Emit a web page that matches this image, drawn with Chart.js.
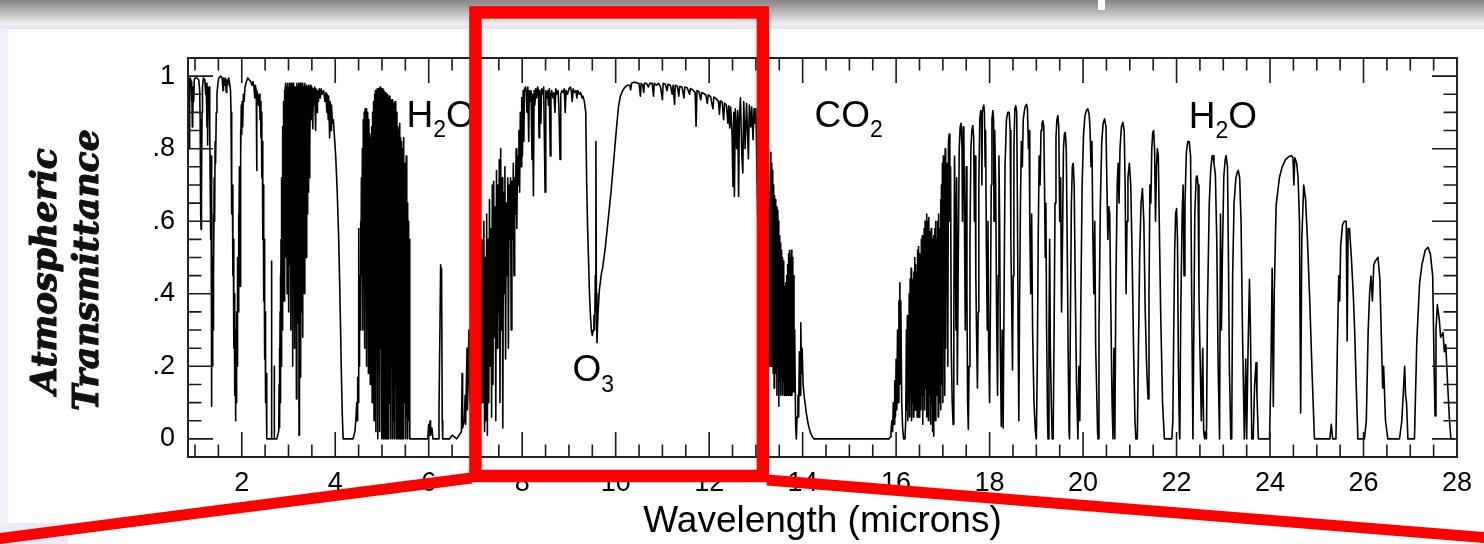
<!DOCTYPE html>
<html><head><meta charset="utf-8">
<script src="https://cdn.jsdelivr.net/npm/chart.js@4.4.1/dist/chart.umd.min.js"></script>
<style>html,body{margin:0;padding:0;background:#fff;overflow:hidden}canvas{display:block}</style>
</head><body>
<canvas id="c" width="1484" height="544" style="width:1484px;height:544px"></canvas>
<script>
// ---- tick labels ----
const xTickValues = [2,4,6,8,10,12,14,16,18,20,22,24,26,28];
const xTickLabels = ['2','4','6','8','10','12','14','16','18','20','22','24','26','28'];
const yTickValues = [0,0.2,0.4,0.6,0.8,1];
const yTickLabels = ['0','.2','.4','.6','.8','1'];
const xTitle = 'Wavelength (microns)';
const yTitle = ['Atmospheric','Transmittance'];
const bandLabels = [
  {main:'H', sub:'2', tail:'O', x:5.526, y:0.861},
  {main:'CO', sub:'2', tail:'', x:14.256, y:0.861},
  {main:'H', sub:'2', tail:'O', x:22.261, y:0.858},
  {main:'O', sub:'3', tail:'', x:9.078, y:0.159}
];

// ---- transmittance spectrum, [wavelength, transmittance] pairs ----
const nearIR = [0.85,0.99, 0.865,0.995, 0.875,0.97, 0.882,0.80, 0.888,0.97, 0.90,0.995, 0.915,0.985, 0.925,0.93, 0.935,0.97, 0.942,0.86, 0.948,0.95, 0.955,0.89, 0.962,0.97, 0.972,0.93, 0.985,0.99, 1.00,0.995, 1.04,0.995, 1.08,0.99, 1.10,0.96, 1.11,0.88, 1.118,0.72, 1.125,0.62, 1.13,0.577, 1.135,0.78, 1.142,0.68, 1.15,0.90, 1.16,0.97, 1.18,0.995, 1.21,0.99, 1.23,0.95, 1.24,0.98, 1.255,0.86, 1.265,0.97, 1.27,0.81, 1.28,0.96, 1.295,0.92, 1.305,0.97, 1.315,0.86, 1.325,0.70, 1.335,0.55, 1.343,0.78, 1.35,0.30, 1.356,0.09, 1.362,0.40, 1.37,0.20, 1.378,0.50, 1.385,0.30, 1.392,0.62, 1.40,0.45, 1.41,0.72, 1.42,0.60, 1.43,0.82, 1.44,0.76, 1.455,0.90, 1.47,0.95, 1.49,0.98, 1.51,0.995, 1.55,1.0, 1.58,0.995, 1.60,0.96, 1.61,0.995, 1.63,0.975, 1.65,0.995, 1.67,0.955, 1.68,0.99, 1.70,0.975, 1.72,0.995, 1.74,0.98, 1.76,0.96, 1.77,0.90, 1.78,0.80, 1.79,0.62, 1.80,0.70, 1.81,0.45, 1.82,0.55, 1.83,0.25, 1.84,0.40, 1.85,0.12, 1.858,0.30, 1.866,0.05, 1.874,0.25, 1.88,0.10, 1.89,0.35, 1.90,0.20, 1.91,0.50, 1.92,0.35, 1.93,0.62, 1.94,0.50, 1.95,0.75, 1.96,0.68, 1.967,0.42, 1.974,0.85, 1.98,0.78, 1.99,0.92, 2.00,0.84, 2.01,0.93, 2.02,0.86, 2.035,0.95, 2.05,0.93, 2.07,0.97, 2.10,0.985, 2.13,0.995, 2.16,0.99, 2.19,0.985, 2.22,0.975, 2.24,0.985, 2.26,0.97, 2.28,0.94, 2.29,0.975, 2.31,0.96, 2.318,0.74, 2.326,0.96, 2.34,0.95, 2.36,0.92, 2.38,0.95, 2.39,0.88, 2.40,0.93, 2.41,0.83, 2.42,0.90, 2.43,0.72, 2.44,0.82, 2.45,0.55, 2.46,0.70, 2.47,0.38, 2.48,0.55, 2.49,0.22, 2.50,0.35, 2.51,0.10, 2.52,0.18, 2.53,0.03, 2.54,0.0];

const band3um = [2.56,0.0, 2.60,0.0, 2.632,0.0, 2.637,0.49, 2.642,0.0, 2.69,0.0, 2.695,0.20, 2.70,0.0, 2.75,0.0, 2.79,0.02, 2.80,0.15, 2.805,0.03, 2.81,0.25, 2.815,0.06, 2.82,0.35, 2.825,0.10, 2.83,0.45, 2.835,0.15, 2.84,0.55, 2.845,0.20, 2.85,0.62, 2.855,0.25, 2.86,0.72, 2.865,0.30, 2.87,0.80, 2.875,0.35, 2.88,0.86, 2.885,0.40, 2.89,0.90, 2.895,0.45, 2.90,0.93, 2.905,0.38, 2.91,0.95, 2.915,0.50, 2.92,0.96, 2.925,0.45, 2.93,0.97, 2.935,0.55,
 2.94,0.98, 2.95,0.50, 2.96,0.97, 2.97,0.40, 2.98,0.98, 2.99,0.55, 3.00,0.97, 3.01,0.35, 3.02,0.98, 3.03,0.48, 3.04,0.96, 3.05,0.30, 3.06,0.98, 3.07,0.45, 3.08,0.97, 3.09,0.20, 3.10,0.98, 3.11,0.42, 3.12,0.97, 3.13,0.25, 3.14,0.96, 3.15,0.38, 3.16,0.97, 3.17,0.11, 3.18,0.98, 3.19,0.32, 3.20,0.97, 3.21,0.40, 3.22,0.98, 3.225,0.01, 3.23,0.97, 3.24,0.30, 3.25,0.98, 3.26,0.17, 3.27,0.97, 3.28,0.35, 3.29,0.98, 3.30,0.28, 3.31,0.96, 3.32,0.45, 3.33,0.97, 3.34,0.40, 3.35,0.98, 3.36,0.55, 3.37,0.97, 3.38,0.50, 3.39,0.975, 3.40,0.62, 3.41,0.97, 3.42,0.68, 3.43,0.975, 3.44,0.72, 3.45,0.97, 3.46,0.80, 3.47,0.975, 3.48,0.88,
 3.50,0.97, 3.52,0.855, 3.53,0.965, 3.55,0.92, 3.56,0.97, 3.58,0.85, 3.59,0.965, 3.61,0.90, 3.62,0.96, 3.64,0.93, 3.66,0.965, 3.68,0.94, 3.70,0.965, 3.72,0.95, 3.75,0.96, 3.78,0.93, 3.80,0.955, 3.82,0.90, 3.83,0.95, 3.85,0.88, 3.86,0.945, 3.88,0.83, 3.89,0.93, 3.91,0.85, 3.92,0.92, 3.94,0.87, 3.96,0.88, 3.98,0.84, 4.01,0.78, 4.04,0.69, 4.07,0.57, 4.09,0.46, 4.11,0.33, 4.13,0.19, 4.15,0.07, 4.17,0.0, 4.38,0.0];

const band6um = [4.40,0.01, 4.42,0.02, 4.44,0.05, 4.46,0.10, 4.47,0.05, 4.48,0.17, 4.49,0.10, 4.50,0.30, 4.505,0.58, 4.51,0.20, 4.52,0.45, 4.53,0.30,
 4.54,0.60, 4.55,0.35, 4.56,0.72, 4.57,0.45, 4.58,0.80, 4.59,0.30, 4.60,0.88, 4.61,0.50, 4.62,0.90, 4.63,0.25, 4.64,0.91, 4.65,0.45, 4.66,0.91, 4.67,0.20, 4.68,0.90, 4.69,0.40, 4.70,0.89, 4.71,0.18, 4.72,0.88, 4.73,0.35, 4.74,0.84, 4.75,0.15, 4.76,0.83, 4.77,0.30, 4.78,0.86, 4.79,0.10, 4.80,0.90, 4.81,0.32, 4.82,0.93, 4.83,0.05, 4.84,0.95, 4.85,0.28, 4.86,0.96, 4.87,0.02, 4.88,0.96, 4.89,0.22, 4.90,0.965, 4.91,0.0, 4.92,0.96, 4.93,0.18, 4.94,0.965, 4.95,0.02, 4.96,0.97, 4.97,0.25, 4.98,0.965, 4.99,0.0, 5.00,0.96, 5.01,0.15, 5.02,0.965, 5.03,0.0, 5.04,0.96, 5.05,0.22, 5.06,0.955, 5.07,0.0, 5.08,0.955, 5.09,0.12, 5.10,0.95, 5.11,0.0, 5.12,0.95, 5.13,0.28, 5.14,0.94, 5.15,0.0, 5.16,0.945, 5.17,0.10, 5.18,0.935, 5.19,0.0, 5.20,0.93, 5.21,0.20, 5.22,0.935, 5.23,0.0, 5.24,0.925, 5.25,0.05, 5.26,0.92, 5.27,0.0, 5.28,0.93, 5.29,0.15, 5.30,0.91, 5.31,0.0, 5.32,0.90, 5.33,0.08, 5.34,0.86, 5.35,0.0, 5.36,0.85, 5.37,0.12, 5.38,0.87, 5.39,0.0, 5.40,0.83, 5.41,0.20, 5.42,0.82, 5.43,0.0, 5.44,0.80, 5.45,0.05, 5.46,0.83, 5.47,0.0, 5.48,0.76, 5.49,0.10, 5.50,0.70, 5.51,0.0, 5.52,0.78, 5.53,0.06, 5.54,0.65, 5.55,0.0, 5.56,0.60, 5.57,0.05, 5.58,0.55, 5.595,0.0,
 5.98,0.0, 6.00,0.04, 6.01,0.01, 6.03,0.05, 6.04,0.01, 6.07,0.03, 6.09,0.0, 6.20,0.0, 6.22,0.08, 6.24,0.30, 6.255,0.48, 6.265,0.44, 6.275,0.47, 6.29,0.05, 6.30,0.0, 6.45,0.0, 6.50,0.01, 6.60,0.0, 6.65,0.01, 6.70,0.02, 6.715,0.18, 6.725,0.03, 6.76,0.05, 6.78,0.12, 6.79,0.04, 6.82,0.25, 6.83,0.08, 6.86,0.30, 6.88,0.10, 6.90,0.35, 6.92,0.05, 6.95,0.40, 6.97,0.10, 7.00,0.45, 7.02,0.05, 7.05,0.50, 7.07,0.15, 7.10,0.55, 7.12,0.10];

const window8to13 = [7.14,0.55, 7.16,0.10, 7.18,0.60, 7.195,0.02, 7.21,0.50, 7.225,0.05, 7.24,0.62, 7.255,0.01, 7.27,0.55, 7.285,0.10, 7.30,0.66, 7.315,0.20, 7.33,0.58, 7.345,0.06, 7.36,0.70, 7.375,0.15, 7.39,0.71, 7.405,0.28, 7.42,0.64, 7.435,0.05, 7.45,0.74, 7.465,0.25, 7.48,0.70, 7.495,0.35, 7.51,0.77, 7.525,0.10, 7.54,0.80, 7.555,0.30, 7.57,0.72, 7.585,0.03, 7.60,0.68, 7.615,0.40, 7.63,0.75, 7.645,0.22, 7.66,0.65, 7.675,0.45, 7.69,0.72, 7.705,0.25, 7.72,0.70, 7.735,0.55, 7.75,0.72, 7.765,0.30, 7.78,0.71, 7.795,0.55, 7.81,0.76, 7.825,0.45, 7.84,0.72, 7.855,0.62, 7.87,0.80, 7.885,0.58, 7.90,0.78, 7.915,0.70, 7.93,0.85, 7.945,0.68, 7.96,0.90, 7.975,0.75, 7.99,0.94, 8.005,0.78, 8.02,0.96, 8.035,0.82, 8.05,0.965,
 8.07,0.97, 8.09,0.955, 8.10,0.90, 8.12,0.97, 8.14,0.82, 8.15,0.96, 8.17,0.93, 8.19,0.96, 8.21,0.77, 8.22,0.95, 8.24,0.67, 8.255,0.96, 8.27,0.92, 8.29,0.965, 8.31,0.94, 8.33,0.97, 8.35,0.96, 8.36,0.83, 8.375,0.96, 8.40,0.87, 8.415,0.965, 8.44,0.95, 8.46,0.97, 8.49,0.68, 8.505,0.96, 8.53,0.94, 8.55,0.96, 8.56,0.92, 8.58,0.965, 8.60,0.78, 8.615,0.95, 8.63,0.96, 8.66,0.94, 8.68,0.955, 8.70,0.90, 8.72,0.965, 8.75,0.95, 8.77,0.96, 8.79,0.89, 8.81,0.77, 8.825,0.95, 8.85,0.96, 8.88,0.955, 8.90,0.965, 8.92,0.90, 8.94,0.96, 8.97,0.95, 9.00,0.965, 9.03,0.97, 9.05,0.96, 9.07,0.93, 9.09,0.965, 9.12,0.955, 9.15,0.96, 9.17,0.94, 9.19,0.96, 9.22,0.95, 9.25,0.955, 9.28,0.94, 9.30,0.945, 9.33,0.93,
 9.36,0.90, 9.38,0.70, 9.40,0.58, 9.42,0.49, 9.44,0.40, 9.46,0.34, 9.48,0.30, 9.50,0.285, 9.52,0.30, 9.535,0.34, 9.55,0.30, 9.565,0.45, 9.577,0.82, 9.587,0.40, 9.60,0.265, 9.62,0.34, 9.65,0.41, 9.68,0.44, 9.70,0.46, 9.72,0.47, 9.75,0.50, 9.78,0.53, 9.82,0.58, 9.86,0.63, 9.90,0.68, 9.94,0.74, 9.98,0.80, 10.02,0.86, 10.06,0.915, 10.10,0.945, 10.15,0.96, 10.20,0.97, 10.25,0.975, 10.30,0.975, 10.32,0.962, 10.34,0.98, 10.38,0.983,
 10.45,0.982, 10.50,0.98, 10.53,0.945, 10.545,0.98, 10.58,0.975, 10.60,0.955, 10.615,0.98, 10.66,0.98, 10.70,0.97, 10.73,0.98, 10.78,0.98, 10.81,0.945, 10.825,0.98, 10.87,0.975, 10.92,0.98, 10.96,0.97, 11.00,0.935, 11.015,0.98, 11.06,0.978, 11.10,0.96, 11.12,0.978, 11.17,0.975, 11.21,0.95, 11.23,0.975, 11.26,0.922, 11.275,0.975, 11.32,0.972, 11.35,0.945, 11.37,0.972, 11.42,0.97, 11.46,0.94, 11.48,0.97, 11.53,0.968, 11.58,0.95, 11.60,0.966, 11.65,0.962, 11.70,0.955, 11.72,0.862, 11.74,0.96, 11.78,0.958, 11.82,0.935, 11.84,0.955, 11.88,0.952, 11.93,0.948, 11.96,0.925, 11.98,0.948, 12.03,0.944, 12.08,0.91, 12.10,0.942, 12.15,0.938, 12.20,0.93, 12.22,0.895, 12.24,0.932, 12.28,0.928, 12.31,0.88, 12.33,0.926, 12.37,0.92, 12.40,0.87, 12.42,0.918, 12.44,0.857, 12.46,0.915, 12.49,0.84, 12.51,0.696, 12.525,0.90, 12.54,0.668, 12.56,0.91, 12.59,0.80, 12.61,0.905, 12.63,0.668, 12.645,0.88, 12.67,0.94, 12.70,0.78, 12.72,0.733, 12.74,0.93, 12.77,0.80, 12.80,0.925, 12.84,0.772, 12.86,0.92, 12.89,0.86, 12.91,0.915, 12.94,0.825, 12.96,0.91, 12.98,0.87, 13.0,0.91,
 13.04,0.60, 13.06,0.90, 13.08,0.50, 13.10,0.88, 13.12,0.40, 13.15,0.85, 13.18,0.30, 13.21,0.82, 13.24,0.25, 13.27,0.80, 13.30,0.20];

const co2Band = [13.32,0.79, 13.33,0.20, 13.34,0.76, 13.35,0.25, 13.36,0.74, 13.37,0.18, 13.38,0.70, 13.39,0.14, 13.40,0.67, 13.41,0.22, 13.42,0.66, 13.43,0.18, 13.44,0.64, 13.45,0.12, 13.46,0.63, 13.47,0.20, 13.48,0.60, 13.49,0.09, 13.50,0.56, 13.51,0.16, 13.52,0.54, 13.53,0.12, 13.54,0.52, 13.55,0.17, 13.56,0.50, 13.57,0.12, 13.58,0.49, 13.59,0.16, 13.60,0.46, 13.61,0.12, 13.62,0.42, 13.63,0.16, 13.64,0.43, 13.65,0.12, 13.66,0.45, 13.67,0.15, 13.68,0.48, 13.69,0.12, 13.70,0.51, 13.71,0.15, 13.72,0.52, 13.73,0.12, 13.74,0.50, 13.75,0.14, 13.76,0.52, 13.77,0.12, 13.78,0.50, 13.79,0.13, 13.80,0.45, 13.815,0.13, 13.83,0.30, 13.85,0.04, 13.865,0.0, 13.88,0.06, 13.90,0.12, 13.915,0.06, 13.93,0.24, 13.945,0.12, 13.96,0.32, 13.975,0.18, 13.99,0.25, 14.01,0.15, 14.04,0.11, 14.08,0.07, 14.12,0.04, 14.16,0.02, 14.20,0.008, 14.24,0.0, 15.85,0.0, 15.87,0.005, 15.89,0.02, 15.91,0.05, 15.925,0.02, 15.94,0.10, 15.955,0.04, 15.97,0.16, 15.985,0.06, 16.00,0.22, 16.015,0.08, 16.03,0.30, 16.045,0.10, 16.06,0.38, 16.07,0.15, 16.08,0.43, 16.09,0.20, 16.10,0.38, 16.12,0.10, 16.14,0.03, 16.16,0.0, 16.19,0.0, 16.205,0.05,
 16.22,0.30, 16.23,0.08, 16.24,0.34, 16.25,0.05, 16.26,0.32, 16.27,0.10, 16.28,0.40, 16.29,0.06, 16.30,0.44, 16.31,0.12, 16.32,0.47, 16.33,0.05, 16.34,0.44, 16.35,0.10, 16.36,0.42, 16.37,0.06, 16.38,0.46, 16.39,0.14, 16.40,0.50, 16.41,0.08, 16.42,0.48, 16.43,0.12, 16.44,0.46, 16.45,0.06, 16.46,0.52, 16.47,0.14, 16.48,0.53, 16.49,0.06, 16.50,0.51, 16.51,0.15, 16.52,0.50, 16.53,0.08, 16.54,0.55, 16.55,0.12, 16.56,0.56, 16.57,0.04, 16.58,0.55, 16.59,0.12, 16.60,0.58, 16.61,0.08, 16.62,0.60, 16.63,0.14, 16.64,0.58, 16.65,0.06, 16.66,0.62, 16.67,0.15, 16.68,0.60, 16.69,0.05, 16.70,0.61, 16.71,0.12, 16.72,0.57];

const farIR1 = [16.73,0.55, 16.74,0.04, 16.75,0.58, 16.76,0.10, 16.77,0.55, 16.78,0.02, 16.79,0.50, 16.80,0.007, 16.81,0.56, 16.82,0.15, 16.83,0.58, 16.84,0.05, 16.85,0.60, 16.86,0.12, 16.87,0.55, 16.88,0.20, 16.89,0.60, 16.90,0.06, 16.91,0.62, 16.92,0.10, 16.93,0.58, 16.94,0.25, 16.95,0.66, 16.96,0.08, 16.97,0.70, 16.98,0.15, 16.99,0.76, 17.00,0.10, 17.01,0.78, 17.02,0.30, 17.03,0.74, 17.04,0.12, 17.05,0.80, 17.06,0.25, 17.07,0.70, 17.08,0.40, 17.09,0.76, 17.105,0.20, 17.12,0.82, 17.135,0.84, 17.15,0.60, 17.165,0.75, 17.18,0.25, 17.20,0.10, 17.22,0.04, 17.235,0.35, 17.25,0.78, 17.265,0.55, 17.28,0.30, 17.295,0.72, 17.31,0.15, 17.33,0.50, 17.35,0.80, 17.37,0.86, 17.39,0.87, 17.41,0.80, 17.42,0.60, 17.435,0.86, 17.45,0.84, 17.465,0.55, 17.48,0.30, 17.50,0.75, 17.515,0.40, 17.53,0.10, 17.545,0.026, 17.56,0.20, 17.58,0.55, 17.60,0.80, 17.62,0.85, 17.64,0.864, 17.66,0.83, 17.675,0.60, 17.69,0.78, 17.705,0.45, 17.72,0.30, 17.74,0.14, 17.755,0.35, 17.77,0.70, 17.79,0.88, 17.81,0.905, 17.825,0.89, 17.835,0.70, 17.845,0.90, 17.86,0.915, 17.875,0.92, 17.89,0.90, 17.905,0.75, 17.915,0.85, 17.93,0.55, 17.95,0.30, 17.965,0.60, 17.98,0.25, 18.00,0.10, 18.02,0.40, 18.035,0.70, 18.05,0.88, 18.07,0.905, 18.085,0.88, 18.095,0.60, 18.11,0.85, 18.13,0.70, 18.15,0.35, 18.17,0.12, 18.185,0.45, 18.20,0.78, 18.215,0.60, 18.23,0.25, 18.25,0.035, 18.27,0.30, 18.29,0.03, 18.31,0.40, 18.33,0.75, 18.36,0.88, 18.39,0.90, 18.42,0.90, 18.44,0.85, 18.455,0.55, 18.47,0.40, 18.49,0.19, 18.505,0.45, 18.52,0.80, 18.54,0.91, 18.56,0.918, 18.58,0.90, 18.595,0.65, 18.61,0.30, 18.625,0.05, 18.64,0.35, 18.66,0.65, 18.68,0.82, 18.70,0.75, 18.72,0.88, 18.74,0.90, 18.76,0.915, 18.79,0.922, 18.81,0.91, 18.83,0.80, 18.845,0.85, 18.86,0.60, 18.88,0.40, 18.90,0.62, 18.92,0.30, 18.95,0.10, 18.98,0.02, 19.00,0.0, 19.02,0.20, 19.04,0.55, 19.06,0.78, 19.08,0.70, 19.10,0.85, 19.12,0.87, 19.14,0.877, 19.16,0.86, 19.175,0.70, 19.19,0.50, 19.205,0.65, 19.22,0.30, 19.24,0.05, 19.25,0.0, 19.27,0.30, 19.285,0.55, 19.30,0.25, 19.32,0.10, 19.34,0.0, 19.36,0.0, 19.38,0.30, 19.40,0.65, 19.42,0.83, 19.44,0.88, 19.46,0.891, 19.48,0.86, 19.50,0.60, 19.52,0.72, 19.54,0.35, 19.56,0.55, 19.58,0.80, 19.60,0.84, 19.62,0.845, 19.64,0.80, 19.66,0.55, 19.68,0.25, 19.70,0.02, 19.71,0.0, 19.73,0.35, 19.75,0.65, 19.77,0.75, 19.79,0.76, 19.81,0.70, 19.83,0.45, 19.86,0.15, 19.89,0.0, 19.91,0.20, 19.93,0.05, 19.95,0.35, 19.98,0.70, 20.01,0.84, 20.04,0.89, 20.07,0.905, 20.10,0.91, 20.13,0.895, 20.15,0.85, 20.17,0.75, 20.19,0.82, 20.21,0.55, 20.23,0.40, 20.25,0.60, 20.27,0.25, 20.29,0.14, 20.31,0.02, 20.32,0.0, 20.34,0.30, 20.37,0.65, 20.40,0.82, 20.43,0.87, 20.46,0.882, 20.49,0.86, 20.51,0.70, 20.53,0.55, 20.55,0.64, 20.57,0.62, 20.59,0.40, 20.62,0.10, 20.64,0.0, 20.66,0.25, 20.68,0.0, 20.70,0.40, 20.73,0.70, 20.75,0.76, 20.77,0.65, 20.79,0.80, 20.82,0.86, 20.85,0.873, 20.88,0.85, 20.90,0.70, 20.92,0.40, 20.94,0.60, 20.96,0.72, 20.99,0.76, 21.02,0.70, 21.05,0.50, 21.08,0.25, 21.11,0.05, 21.13,0.0, 21.16,0.0, 21.18,0.20, 21.21,0.50, 21.24,0.65, 21.27,0.69, 21.30,0.60, 21.33,0.35, 21.36,0.20, 21.39,0.11, 21.41,0.40, 21.43,0.70, 21.45,0.65, 21.47,0.80, 21.49,0.845, 21.51,0.85, 21.53,0.80, 21.55,0.60, 21.57,0.75, 21.59,0.80, 21.61,0.78, 21.63,0.60, 21.66,0.35, 21.70,0.10, 21.74,0.0, 21.90,0.0, 21.92,0.05, 21.94,0.30, 21.96,0.52, 21.98,0.62, 22.00,0.635, 22.02,0.55, 22.04,0.20, 22.06,0.02, 22.07,0.0, 22.09,0.35, 22.12,0.62, 22.14,0.70, 22.16,0.45, 22.18,0.65, 22.21,0.79, 22.24,0.82, 22.27,0.82, 22.30,0.78, 22.32,0.45, 22.35,0.0, 22.37,0.30, 22.39,0.62, 22.42,0.72, 22.44,0.725, 22.46,0.70, 22.48,0.40, 22.50,0.25];

const farIR2 = [22.53,0.05, 22.56,0.25, 22.58,0.02, 22.60,0.0, 22.62,0.02, 22.64,0.0, 22.66,0.35, 22.70,0.65, 22.73,0.74, 22.76,0.78, 22.78,0.781, 22.80,0.76, 22.83,0.73, 22.86,0.55, 22.89,0.20, 22.92,0.0, 22.94,0.62, 22.96,0.30, 22.98,0.50, 23.01,0.72, 23.04,0.77, 23.06,0.781, 23.09,0.75, 23.11,0.50, 23.13,0.20, 23.16,0.0, 23.18,0.0, 23.20,0.45, 23.23,0.65, 23.27,0.72, 23.30,0.735, 23.32,0.74, 23.35,0.72, 23.38,0.60, 23.41,0.30, 23.45,0.0, 23.48,0.22, 23.50,0.0, 23.53,0.25, 23.56,0.44, 23.58,0.30, 23.61,0.0, 23.64,0.0, 23.67,0.15, 23.70,0.21, 23.72,0.12, 23.75,0.0, 23.99,0.0, 24.02,0.20, 24.045,0.47, 24.07,0.09, 24.09,0.40, 24.13,0.643, 24.20,0.72, 24.26,0.75, 24.33,0.77, 24.40,0.778, 24.46,0.781, 24.49,0.775, 24.51,0.70, 24.53,0.775, 24.57,0.76, 24.60,0.72, 24.63,0.60, 24.655,0.071, 24.68,0.55, 24.72,0.70, 24.76,0.66, 24.80,0.55, 24.85,0.38, 24.90,0.18, 24.95,0.0, 25.28,0.0, 25.31,0.04, 25.34,0.0, 25.41,0.0, 25.44,0.25, 25.47,0.45, 25.49,0.38, 25.51,0.53, 25.55,0.59, 25.59,0.60, 25.63,0.60, 25.65,0.27, 25.67,0.58, 25.70,0.58, 25.74,0.50, 25.78,0.40, 25.81,0.30, 25.85,0.12, 25.88,0.0, 26.02,0.0, 26.06,0.05, 26.10,0.30, 26.13,0.40, 26.16,0.449, 26.19,0.38, 26.22,0.48, 26.25,0.49, 26.31,0.50, 26.35,0.44, 26.38,0.29, 26.41,0.14, 26.43,0.20, 26.47,0.05, 26.52,0.0, 26.77,0.0, 26.82,0.05, 26.86,0.15, 26.88,0.20, 26.90,0.12, 26.92,0.10, 26.95,0.0, 27.09,0.0, 27.14,0.27, 27.20,0.43, 27.25,0.48, 27.32,0.52, 27.38,0.528, 27.43,0.51, 27.48,0.45, 27.51,0.20, 27.53,0.063, 27.55,0.30, 27.58,0.37, 27.62,0.33, 27.65,0.28, 27.70,0.293, 27.73,0.24, 27.76,0.26, 27.80,0.15, 27.84,0.05, 27.87,0.0, 27.95,0.0];

function toPoints(flat){ const out=[]; for(let i=0;i<flat.length;i+=2) out.push({x:flat[i], y:flat[i+1]}); return out; }
const spectrum = [nearIR, band3um, band6um, window8to13, co2Band, farIR1, farIR2].flatMap(toPoints);

const FONT = '"Liberation Sans", Arial, Helvetica, sans-serif';

const decor = {
  id: 'decor',
  beforeDraw(chart) {
    const ctx = chart.ctx, W = chart.width, H = chart.height;
    ctx.save();
    ctx.fillStyle = '#ffffff'; ctx.fillRect(0, 0, W, H);
    const g = ctx.createLinearGradient(0, 0, 0, 25);
    g.addColorStop(0, '#858585'); g.addColorStop(0.45, '#b5b5b5'); g.addColorStop(1, '#f3f3f3');
    ctx.fillStyle = g; ctx.fillRect(0, 0, W, 25);
    ctx.fillStyle = '#e8e8f4'; ctx.fillRect(0, 25, W, 4);
    ctx.fillStyle = '#f1f1fa'; ctx.fillRect(0, 29, 8, H - 29);
    ctx.fillStyle = '#ebebf7'; ctx.fillRect(0, 523, 68, H - 523);
    ctx.fillStyle = '#ffffff'; ctx.fillRect(1098, 0, 7, 10);
    ctx.restore();
  },
  afterDraw(chart) {
    const ctx = chart.ctx, a = chart.chartArea, xs = chart.scales.x, ys = chart.scales.y;
    ctx.save();
    // inward tick marks on all four sides
    ctx.strokeStyle = '#1a1a1a'; ctx.lineWidth = 1.6; ctx.beginPath();
    for (let i = 2; i <= 56; i++) {
      const px = xs.getPixelForValue(i / 2);
      const len = (i % 4 === 0) ? 25 : 12.5;
      ctx.moveTo(px, a.top); ctx.lineTo(px, a.top + len);
      ctx.moveTo(px, a.bottom); ctx.lineTo(px, a.bottom - len);
    }
    for (let i = 0; i <= 20; i++) {
      const py = ys.getPixelForValue(i / 20);
      const len = (i % 4 === 0) ? 25 : 13.5;
      ctx.moveTo(a.left, py); ctx.lineTo(a.left + len, py);
      ctx.moveTo(a.right, py); ctx.lineTo(a.right - len, py);
    }
    ctx.stroke();
    ctx.lineWidth = 2; ctx.strokeStyle = '#222';
    ctx.strokeRect(a.left, a.top, a.right - a.left, a.bottom - a.top);

    // band labels with subscripts
    ctx.fillStyle = '#000'; ctx.textBaseline = 'alphabetic'; ctx.textAlign = 'left';
    bandLabels.forEach(l => {
      let px = xs.getPixelForValue(l.x); const py = ys.getPixelForValue(l.y);
      ctx.font = '37px ' + FONT; ctx.fillText(l.main, px, py); px += ctx.measureText(l.main).width;
      ctx.font = '23px ' + FONT; ctx.fillText(l.sub, px, py + 10.5); px += ctx.measureText(l.sub).width;
      if (l.tail) { ctx.font = '37px ' + FONT; ctx.fillText(l.tail, px, py); }
    });

    // y axis title (two rotated lines, heavy italic serif)
    ctx.font = 'italic bold 32px "DejaVu Serif", serif';
    const w = ctx.measureText(yTitle[1]).width;
    const fs = 32 * 282 / w;
    ctx.font = 'italic bold ' + fs.toFixed(1) + 'px "DejaVu Serif", serif';
    ctx.fillStyle = '#111'; ctx.strokeStyle = '#111'; ctx.lineWidth = 1.1; ctx.lineJoin = 'round';
    ctx.textAlign = 'center'; ctx.textBaseline = 'alphabetic';
    [[yTitle[0], 56, 271], [yTitle[1], 98, 270]].forEach(([t, bx, cy]) => {
      ctx.save(); ctx.translate(bx, cy); ctx.rotate(-Math.PI / 2); ctx.fillText(t, 0, 0); ctx.strokeText(t, 0, 0); ctx.restore();
    });

    // red highlight box over the 7-13 micron window and the zoom lines
    const rl = xs.getPixelForValue(7.0), rr = xs.getPixelForValue(13.15);
    const rt = ys.getPixelForValue(1.1756), rb = ys.getPixelForValue(-0.1023);
    ctx.strokeStyle = '#ff0000';
    ctx.lineWidth = 11;
    ctx.beginPath(); ctx.moveTo(rl - 4, rb + 2); ctx.lineTo(-20, 541); ctx.stroke();
    ctx.beginPath(); ctx.moveTo(rr + 4, rb + 4); ctx.lineTo(chart.width + 20, 539); ctx.stroke();
    ctx.lineWidth = 12.5; ctx.lineJoin = 'miter';
    ctx.strokeRect(rl, rt, rr - rl, rb - rt);
    ctx.restore();
  }
};

new Chart(document.getElementById('c'), {
  type: 'line',
  data: { datasets: [{ data: spectrum, borderColor: '#000', borderWidth: 1.6, pointRadius: 0, tension: 0, fill: false, borderJoinStyle: 'round' }] },
  options: {
    responsive: false, animation: false, parsing: false, devicePixelRatio: 1,
    layout: { padding: { left: 0, right: 27, top: 58, bottom: 0 } },
    plugins: { legend: { display: false }, tooltip: { enabled: false } },
    scales: {
      x: {
        type: 'linear', position: 'bottom', min: 0.85, max: 28,
        afterBuildTicks: s => { s.ticks = xTickValues.map(v => ({ value: v })); },
        afterFit: s => { s.height = 87; },
        grid: { display: false, drawTicks: false }, border: { display: false },
        ticks: { autoSkip: false, maxRotation: 0, padding: 10, color: '#000', font: { family: FONT, size: 27 },
          callback: v => { const i = xTickValues.indexOf(v); return i >= 0 ? xTickLabels[i] : ''; } },
        title: { display: true, text: xTitle, color: '#000', font: { family: FONT, size: 37 }, padding: { top: 0, bottom: 0 } }
      },
      y: {
        type: 'linear', position: 'left', min: -0.05, max: 1.05,
        afterBuildTicks: s => { s.ticks = yTickValues.map(v => ({ value: v })); },
        afterFit: s => { s.width = 188; },
        grid: { display: false, drawTicks: false }, border: { display: false },
        ticks: { autoSkip: false, padding: 13, color: '#000', font: { family: FONT, size: 27 },
          callback: v => { const i = yTickValues.findIndex(t => Math.abs(t - v) < 1e-9); return i >= 0 ? yTickLabels[i] : ''; } }
      }
    }
  },
  plugins: [decor]
});
</script>
</body></html>
